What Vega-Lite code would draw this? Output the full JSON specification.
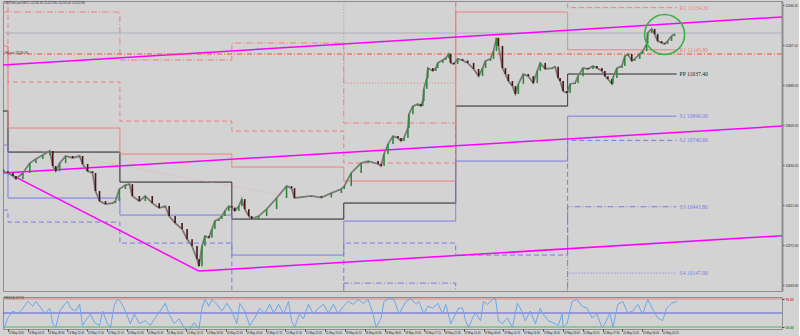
{
"$schema":"https://vega.github.io/schema/vega-lite/v6.json",
"padding":0,
"background":"#d3d3d3",
"spacing":3,
"config":{"view":{"stroke":"#8e8e8e","fill":"#d3d3d3"},"font":"Liberation Sans","axis":{"labelOverlap":false},"axisX":{"labelOverlap":false}},
"datasets":{
"price":[
{"t":-1.07,"o":10610,"c":10603},{"t":0,"o":10603,"c":10595},{"t":1.07,"o":10595,"c":10581},{"t":1.71,"o":10581,"c":10568},{"t":3.2,"o":10568,"c":10595},{"t":4.69,"o":10595,"c":10639},{"t":5.97,"o":10639,"c":10657},{"t":7.47,"o":10657,"c":10675},{"t":8.96,"o":10675,"c":10693},{"t":9.6,"o":10693,"c":10626},{"t":10.24,"o":10626,"c":10603},{"t":11.09,"o":10603,"c":10639},{"t":12.37,"o":10639,"c":10671},{"t":13.87,"o":10671,"c":10662},{"t":15.36,"o":10662,"c":10671},{"t":16.0,"o":10671,"c":10635},{"t":17.07,"o":10635,"c":10603},{"t":18.13,"o":10603,"c":10595},{"t":18.77,"o":10595,"c":10514},{"t":19.63,"o":10514,"c":10469},{"t":20.91,"o":10469,"c":10456},{"t":22.4,"o":10456,"c":10460},{"t":23.04,"o":10460,"c":10469},{"t":23.89,"o":10469,"c":10523},{"t":25.17,"o":10523,"c":10541},{"t":26.03,"o":10541,"c":10545},{"t":26.67,"o":10545,"c":10492},{"t":28.16,"o":10492,"c":10469},{"t":29.44,"o":10469,"c":10492},{"t":30.93,"o":10492,"c":10460},{"t":32.43,"o":10460,"c":10438},{"t":33.71,"o":10438,"c":10447},{"t":34.56,"o":10447,"c":10402},{"t":35.84,"o":10402,"c":10371},{"t":37.33,"o":10371,"c":10344},{"t":38.4,"o":10344,"c":10299},{"t":39.47,"o":10299,"c":10268},{"t":40.53,"o":10268,"c":10210},{"t":40.96,"o":10210,"c":10178},{"t":41.6,"o":10178,"c":10268},{"t":42.24,"o":10268,"c":10313},{"t":43.09,"o":10313,"c":10305},{"t":43.73,"o":10305,"c":10344},{"t":44.37,"o":10344,"c":10380},{"t":45.23,"o":10380,"c":10389},{"t":45.87,"o":10389,"c":10402},{"t":46.51,"o":10402,"c":10425},{"t":47.36,"o":10425,"c":10447},{"t":48.0,"o":10447,"c":10440},{"t":48.64,"o":10440,"c":10425},{"t":49.49,"o":10425,"c":10447},{"t":50.13,"o":10447,"c":10478},{"t":50.77,"o":10478,"c":10433},{"t":51.63,"o":10433,"c":10402},{"t":52.27,"o":10402,"c":10389},{"t":53.76,"o":10389,"c":10402},{"t":55.47,"o":10402,"c":10433},{"t":57.6,"o":10433,"c":10483},{"t":59.73,"o":10483,"c":10536},{"t":60.8,"o":10536,"c":10527},{"t":61.44,"o":10527,"c":10483},{"t":62.93,"o":10483,"c":10487},{"t":65.07,"o":10487,"c":10492},{"t":67.2,"o":10492,"c":10485},{"t":69.33,"o":10485,"c":10505},{"t":71.47,"o":10505,"c":10523},{"t":72.11,"o":10523,"c":10536},{"t":73.6,"o":10536,"c":10595},{"t":75.73,"o":10595,"c":10639},{"t":77.23,"o":10639,"c":10648},{"t":79.36,"o":10648,"c":10635},{"t":80.0,"o":10635,"c":10626},{"t":80.64,"o":10626,"c":10680},{"t":81.49,"o":10680,"c":10724},{"t":82.56,"o":10724,"c":10760},{"t":83.63,"o":10760,"c":10751},{"t":84.27,"o":10751,"c":10738},{"t":84.91,"o":10738,"c":10751},{"t":85.76,"o":10751,"c":10796},{"t":85.97,"o":10796,"c":10858},{"t":86.83,"o":10858,"c":10894},{"t":87.89,"o":10894,"c":10903},{"t":88.53,"o":10903,"c":10894},{"t":88.96,"o":10894,"c":10917},{"t":89.17,"o":10917,"c":10970},{"t":89.81,"o":10970,"c":11020},{"t":90.03,"o":11020,"c":11064},{"t":91.09,"o":11064,"c":11051},{"t":91.73,"o":11051,"c":11064},{"t":92.16,"o":11064,"c":11087},{"t":93.23,"o":11087,"c":11100},{"t":93.87,"o":11100,"c":11109},{"t":94.51,"o":11109,"c":11127},{"t":94.93,"o":11127,"c":11087},{"t":95.57,"o":11087,"c":11082},{"t":96.43,"o":11082,"c":11105},{"t":97.49,"o":11105,"c":11098},{"t":98.56,"o":11098,"c":11087},{"t":99.84,"o":11087,"c":11060},{"t":100.91,"o":11060,"c":11028},{"t":101.76,"o":11028,"c":11064},{"t":102.4,"o":11064,"c":11096},{"t":103.47,"o":11096,"c":11105},{"t":104.11,"o":11105,"c":11140},{"t":104.75,"o":11140,"c":11199},{"t":105.17,"o":11199,"c":11163},{"t":106.03,"o":11163,"c":11064},{"t":106.67,"o":11064,"c":11037},{"t":107.31,"o":11037,"c":11006},{"t":108.16,"o":11006,"c":10984},{"t":108.8,"o":10984,"c":10948},{"t":109.44,"o":10948,"c":10993},{"t":110.51,"o":10993,"c":11037},{"t":111.57,"o":11037,"c":11028},{"t":112.64,"o":11028,"c":10997},{"t":113.49,"o":10997,"c":11051},{"t":114.13,"o":11051,"c":11087},{"t":115.2,"o":11087,"c":11060},{"t":116.69,"o":11060,"c":11064},{"t":117.33,"o":11064,"c":11070},{"t":117.97,"o":11070,"c":11020},{"t":118.4,"o":11020,"c":11006},{"t":119.04,"o":11006,"c":10961},{"t":119.89,"o":10961,"c":10952},{"t":120.53,"o":10952,"c":10993},{"t":121.6,"o":10993,"c":10997},{"t":122.24,"o":10997,"c":11028},{"t":123.31,"o":11028,"c":11064},{"t":124.37,"o":11064,"c":11060},{"t":125.44,"o":11060,"c":11073},{"t":126.29,"o":11073,"c":11064},{"t":127.36,"o":11064,"c":11051},{"t":128.0,"o":11051,"c":11028},{"t":128.64,"o":11028,"c":11015},{"t":129.49,"o":11015,"c":10993},{"t":129.71,"o":10993,"c":11020},{"t":130.56,"o":11020,"c":11064},{"t":131.63,"o":11064,"c":11073},{"t":132.27,"o":11073,"c":11118},{"t":132.91,"o":11118,"c":11127},{"t":133.76,"o":11127,"c":11096},{"t":134.4,"o":11096,"c":11105},{"t":135.47,"o":11105,"c":11127},{"t":136.11,"o":11127,"c":11140},{"t":136.96,"o":11140,"c":11172},{"t":137.17,"o":11172,"c":11221},{"t":138.03,"o":11221,"c":11239},{"t":138.67,"o":11239,"c":11216},{"t":139.31,"o":11216,"c":11185},{"t":140.16,"o":11185,"c":11176},{"t":140.8,"o":11176,"c":11172},{"t":141.44,"o":11172,"c":11185},{"t":142.29,"o":11185,"c":11207},{"t":142.93,"o":11207,"c":11216}
],
"piv":[
{"lvl":"PP","t":-1.07,"v":10871.9},{"lvl":"PP","t":0,"v":10688.4},{"lvl":"PP","t":24,"v":10554.2},{"lvl":"PP","t":48,"v":10388.7},{"lvl":"PP","t":72,"v":10460.3},{"lvl":"PP","t":96,"v":10894.2},{"lvl":"PP","t":120,"v":11037.4},{"lvl":"PP","t":143.36,"v":11037.4},
{"lvl":"R1","t":-1.07,"v":11162.7},{"lvl":"R1","t":0,"v":10795.8},{"lvl":"R1","t":24,"v":10679.5},{"lvl":"R1","t":48,"v":10621.3},{"lvl":"R1","t":72,"v":10558.7},{"lvl":"R1","t":96,"v":11314.8},{"lvl":"R1","t":120,"v":11145.8},{"lvl":"R1","t":143.36,"v":11145.8},
{"lvl":"R2","t":-1.07,"v":11314.8},{"lvl":"R2","t":0,"v":11001.6},{"lvl":"R2","t":24,"v":10827.1},{"lvl":"R2","t":48,"v":10782.4},{"lvl":"R2","t":72,"v":10639.2},{"lvl":"R2","t":96,"v":11560.9},{"lvl":"R2","t":120,"v":11334.2},{"lvl":"R2","t":143.36,"v":11334.2},
{"lvl":"R3","t":-1.07,"v":11757.7},{"lvl":"R3","t":0,"v":11314.8},{"lvl":"R3","t":24,"v":11100.0},{"lvl":"R3","t":48,"v":11176.1},{"lvl":"R3","t":72,"v":10818.2},{"lvl":"R3","t":96,"v":12227},{"lvl":"R3","t":120,"v":11631.0},{"lvl":"R3","t":143.36,"v":11631.0},
{"lvl":"R4","t":-1.07,"v":12200},{"lvl":"R4","t":0,"v":11628.0},{"lvl":"R4","t":24,"v":11372.9},{"lvl":"R4","t":48,"v":11569.8},{"lvl":"R4","t":72,"v":10997.1},{"lvl":"R4","t":96,"v":12890},{"lvl":"R4","t":120,"v":11927.8},{"lvl":"R4","t":143.36,"v":11927.8},
{"lvl":"S1","t":-1.07,"v":10719.7},{"lvl":"S1","t":0,"v":10482.6},{"lvl":"S1","t":24,"v":10406.6},{"lvl":"S1","t":48,"v":10227.6},{"lvl":"S1","t":72,"v":10379.7},{"lvl":"S1","t":96,"v":10648.2},{"lvl":"S1","t":120,"v":10849.0},{"lvl":"S1","t":143.36,"v":10849.0},
{"lvl":"S2","t":-1.07,"v":10428.9},{"lvl":"S2","t":0,"v":10375.2},{"lvl":"S2","t":24,"v":10281.3},{"lvl":"S2","t":48,"v":9995.0},{"lvl":"S2","t":72,"v":10281.3},{"lvl":"S2","t":96,"v":10227.6},{"lvl":"S2","t":120,"v":10740.6},{"lvl":"S2","t":143.36,"v":10740.6},
{"lvl":"S3","t":-1.07,"v":9986.0},{"lvl":"S3","t":0,"v":10062.1},{"lvl":"S3","t":24,"v":10008.4},{"lvl":"S3","t":48,"v":9601.2},{"lvl":"S3","t":72,"v":10102.3},{"lvl":"S3","t":96,"v":9561.0},{"lvl":"S3","t":120,"v":10443.8},{"lvl":"S3","t":143.36,"v":10443.8},
{"lvl":"S4","t":-1.07,"v":9543},{"lvl":"S4","t":0,"v":9748.9},{"lvl":"S4","t":24,"v":9735.5},{"lvl":"S4","t":48,"v":9207.5},{"lvl":"S4","t":72,"v":9923.4},{"lvl":"S4","t":96,"v":8894},{"lvl":"S4","t":120,"v":10147.0},{"lvl":"S4","t":143.36,"v":10147.0}
],
"plabels":[
{"lvl":"R2","t":144,"v":11334.2,"label":"R2 11334.20"},{"lvl":"R1","t":144,"v":11145.8,"label":"R1 11145.80"},{"lvl":"PP","t":144,"v":11037.4,"label":"PP 11037.40"},{"lvl":"S1","t":144,"v":10849.0,"label":"S1 10849.00"},{"lvl":"S2","t":144,"v":10740.6,"label":"S2 10740.60"},{"lvl":"S3","t":144,"v":10443.8,"label":"S3 10443.80"},{"lvl":"S4","t":144,"v":10147.0,"label":"S4 10147.00"}
],
"trend":[
{"id":"a","t":-1.07,"v":11077.7},{"id":"a","t":165.97,"v":11292.4},
{"id":"b","t":-1.07,"v":10594.5},{"id":"b","t":165.97,"v":10804.7},
{"id":"c","t":0,"v":10594.5},{"id":"c","t":40.96,"v":10156.0},
{"id":"d","t":40.96,"v":10156.0},{"id":"d","t":165.97,"v":10314.0}
],
"diag":[{"t":-1.07,"v":10724},{"t":58.67,"v":10496}],
"hred":[{"v":11126.9}],
"hgray":[{"v":11220.8}],
"circle":[{"t":140.8,"v":11214}],
"notes":[{"t":-0.8,"v":11354,"label":"GER30Cash,M15  11218.30 11221.80 11216.40 11220.80"},{"t":-0.8,"v":11133,"label":"#HLine 11126.90"}],
"rsi":[
{"t":-1.07,"r":25.2},{"t":0,"r":43.1},{"t":1.07,"r":52.8},{"t":2.13,"r":48.6},{"t":3.2,"r":56.9},{"t":4.27,"r":66.5},{"t":5.33,"r":59.7},{"t":5.97,"r":66.5},{"t":6.83,"r":59.7},{"t":7.89,"r":48.6},{"t":8.96,"r":56.9},{"t":9.6,"r":34.8},{"t":10.24,"r":29.3},{"t":11.09,"r":52.8},{"t":12.16,"r":62.4},{"t":12.8,"r":66.5},{"t":13.44,"r":56.9},{"t":14.51,"r":52.8},{"t":15.36,"r":62.4},{"t":16,"r":32.1},{"t":16.64,"r":39.0},{"t":17.71,"r":48.6},{"t":18.56,"r":36.2},{"t":19.63,"r":32.1},{"t":20.27,"r":52.8},{"t":21.33,"r":34.8},{"t":21.97,"r":29.3},{"t":22.83,"r":62.4},{"t":23.47,"r":69.3},{"t":24.11,"r":66.5},{"t":25.17,"r":52.8},{"t":26.24,"r":34.8},{"t":27.09,"r":48.6},{"t":28.16,"r":34.8},{"t":29.44,"r":39.0},{"t":30.51,"r":32.1},{"t":31.57,"r":43.1},{"t":32.64,"r":52.8},{"t":33.71,"r":63.8},{"t":34.56,"r":48.6},{"t":35.63,"r":34.8},{"t":36.69,"r":41.7},{"t":37.76,"r":29.3},{"t":38.83,"r":25.2},{"t":39.89,"r":36.2},{"t":40.96,"r":27.9},{"t":41.6,"r":56.9},{"t":42.24,"r":69.3},{"t":43.09,"r":59.7},{"t":43.73,"r":69.3},{"t":44.8,"r":62.4},{"t":45.87,"r":52.8},{"t":46.93,"r":63.8},{"t":48,"r":52.8},{"t":49.07,"r":34.8},{"t":49.71,"r":63.8},{"t":50.77,"r":52.8},{"t":51.84,"r":32.1},{"t":52.91,"r":43.1},{"t":53.97,"r":56.9},{"t":55.04,"r":48.6},{"t":56.11,"r":62.4},{"t":56.96,"r":50},{"t":58.03,"r":62.4},{"t":59.09,"r":48.6},{"t":60.16,"r":66.5},{"t":60.8,"r":39.0},{"t":61.44,"r":29.3},{"t":62.51,"r":48.6},{"t":63.36,"r":41.7},{"t":64.43,"r":62.4},{"t":65.49,"r":48.6},{"t":66.56,"r":56.9},{"t":67.63,"r":62.4},{"t":68.69,"r":50},{"t":69.76,"r":62.4},{"t":70.83,"r":48.6},{"t":71.89,"r":59.7},{"t":72.96,"r":66.5},{"t":74.03,"r":62.4},{"t":75.09,"r":69.3},{"t":76.16,"r":63.8},{"t":77.23,"r":69.3},{"t":78.29,"r":48.6},{"t":78.93,"r":29.3},{"t":80,"r":43.1},{"t":80.64,"r":66.5},{"t":81.71,"r":70.7},{"t":82.77,"r":69.3},{"t":83.84,"r":48.6},{"t":85.33,"r":66.5},{"t":86.4,"r":70.7},{"t":87.47,"r":62.4},{"t":88.11,"r":66.5},{"t":89.17,"r":48.6},{"t":90.03,"r":59.7},{"t":91.09,"r":56.9},{"t":92.16,"r":63.8},{"t":93.23,"r":48.6},{"t":93.87,"r":62.4},{"t":94.93,"r":34.8},{"t":95.57,"r":43.1},{"t":96.64,"r":56.9},{"t":97.49,"r":56.9},{"t":98.13,"r":39.0},{"t":98.77,"r":29.3},{"t":99.63,"r":43.1},{"t":100.27,"r":50},{"t":101.33,"r":39.0},{"t":101.97,"r":66.5},{"t":102.83,"r":62.4},{"t":103.89,"r":69.3},{"t":104.53,"r":70.7},{"t":105.17,"r":39.0},{"t":106.03,"r":34.8},{"t":107.09,"r":43.1},{"t":108.16,"r":29.3},{"t":109.23,"r":63.8},{"t":109.87,"r":56.9},{"t":110.93,"r":39.0},{"t":112,"r":52.8},{"t":113.07,"r":34.8},{"t":114.13,"r":56.9},{"t":114.77,"r":48.6},{"t":115.84,"r":39.0},{"t":117.33,"r":34.8},{"t":117.97,"r":32.1},{"t":118.83,"r":48.6},{"t":119.04,"r":29.3},{"t":119.89,"r":34.8},{"t":120.96,"r":66.5},{"t":122.03,"r":69.3},{"t":123.09,"r":59.7},{"t":124.16,"r":56.9},{"t":125.23,"r":43.1},{"t":126.29,"r":48.6},{"t":127.36,"r":29.3},{"t":128,"r":34.8},{"t":129.07,"r":50},{"t":129.71,"r":29.3},{"t":130.77,"r":62.4},{"t":131.84,"r":66.5},{"t":132.91,"r":50},{"t":133.97,"r":52.8},{"t":135.04,"r":62.4},{"t":136.11,"r":48.6},{"t":137.17,"r":69.3},{"t":138.24,"r":55.5},{"t":139.31,"r":43.1},{"t":140.37,"r":39.0},{"t":141.23,"r":56.9},{"t":142.29,"r":63.8},{"t":143.36,"r":66.5}
],
"rlev":[{"r":70},{"r":50},{"r":30}],
"rnote":[{"t":-0.8,"r":71.2,"label":"RSI(14) 67.51"}]
},
"vconcat":[
{
"width":779,"height":290,
"layer":[
{"data":{"name":"hgray"},"mark":{"type":"rule","color":"#a9b1bd","strokeWidth":1},
 "encoding":{"y":{"field":"v","type":"quantitative","title":null,"scale":{"domain":[10067,11364],"nice":false,"zero":false},
  "axis":{"orient":"right","values":[11346.1,11301.4,11256.6,11211.9,11167.1,11122.4,11077.7,11032.9,10988.2,10943.4,10898.7,10853.9,10809.2,10764.5,10719.7,10675.0,10630.2,10585.5,10540.7,10496.0,10451.3,10406.5,10361.8,10317.0,10272.3,10227.5,10182.8,10138.1,10093.3],"format":".2f","labelFontSize":3,"tickSize":2,"labelPadding":1,"domainColor":"#8e8e8e","domainWidth":2,"tickColor":"#404040","labelColor":"#202020","grid":false,"title":null}}}},
{"data":{"name":"piv"},"mark":{"type":"line","interpolate":"step-after","strokeWidth":1,"clip":true},
 "encoding":{"x":{"field":"t","type":"quantitative","axis":null,"scale":{"domain":[-1.07,165.97],"nice":false,"zero":false}},
  "y":{"field":"v","type":"quantitative","title":null,"scale":{"domain":[10067,11364],"nice":false,"zero":false}},
  "color":{"field":"lvl","type":"nominal","legend":null,"scale":{"domain":["PP","R1","R2","R3","R4","S1","S2","S3","S4"],"range":["#1e1e1e","#ee7f7a","#ee7f7a","#ee7f7a","#ee7f7a","#7a7ae8","#7a7ae8","#7a7ae8","#7a7ae8"]}},
  "strokeDash":{"field":"lvl","type":"nominal","legend":null,"scale":{"domain":["PP","R1","R2","R3","R4","S1","S2","S3","S4"],"range":[[1,0],[1,0],[5,3],[6,2,1,2],[1,2],[1,0],[5,3],[6,2,1,2],[1,2]]}}}},
{"data":{"name":"diag"},"mark":{"type":"line","color":"#e6a28f","strokeWidth":1,"strokeDash":[1,2],"opacity":0.8},
 "encoding":{"x":{"field":"t","type":"quantitative","axis":null,"scale":{"domain":[-1.07,165.97],"nice":false,"zero":false}},
  "y":{"field":"v","type":"quantitative","title":null,"scale":{"domain":[10067,11364],"nice":false,"zero":false}}}},
{"data":{"name":"trend"},"mark":{"type":"line","color":"#ff00ff","strokeWidth":1.5,"clip":true},
 "encoding":{"x":{"field":"t","type":"quantitative","axis":null,"scale":{"domain":[-1.07,165.97],"nice":false,"zero":false}},
  "y":{"field":"v","type":"quantitative","title":null,"scale":{"domain":[10067,11364],"nice":false,"zero":false}},
  "detail":{"field":"id","type":"nominal"}}},
{"data":{"name":"hred"},"mark":{"type":"rule","color":"#ff4a2a","strokeWidth":1,"strokeDash":[5,2,1,2]},
 "encoding":{"y":{"field":"v","type":"quantitative","title":null,"scale":{"domain":[10067,11364],"nice":false,"zero":false}}}},
{"data":{"name":"price"},"mark":{"type":"line","color":"#7a7a7a","strokeWidth":1.8,"clip":true},
 "encoding":{"x":{"field":"t","type":"quantitative","axis":null,"scale":{"domain":[-1.07,165.97],"nice":false,"zero":false}},
  "y":{"field":"c","type":"quantitative","title":null,"scale":{"domain":[10067,11364],"nice":false,"zero":false}}}},
{"data":{"name":"price"},"mark":{"type":"rule","strokeWidth":1.6,"clip":true},
 "encoding":{"x":{"field":"t","type":"quantitative","axis":null,"scale":{"domain":[-1.07,165.97],"nice":false,"zero":false}},
  "y":{"field":"o","type":"quantitative","title":null,"scale":{"domain":[10067,11364],"nice":false,"zero":false}},
  "y2":{"field":"c"},
  "color":{"condition":{"test":"datum.c >= datum.o","value":"#2f8a35"},"value":"#4a1212"}}},
{"data":{"name":"circle"},"mark":{"type":"point","shape":"circle","size":1600,"filled":false,"color":"#3bb24a","strokeWidth":1.6,"opacity":1},
 "encoding":{"x":{"field":"t","type":"quantitative","axis":null,"scale":{"domain":[-1.07,165.97],"nice":false,"zero":false}},
  "y":{"field":"v","type":"quantitative","title":null,"scale":{"domain":[10067,11364],"nice":false,"zero":false}}}},
{"data":{"name":"plabels"},"mark":{"type":"text","align":"left","baseline":"middle","font":"Liberation Serif","fontSize":5.6},
 "encoding":{"x":{"field":"t","type":"quantitative","axis":null,"scale":{"domain":[-1.07,165.97],"nice":false,"zero":false}},
  "y":{"field":"v","type":"quantitative","title":null,"scale":{"domain":[10067,11364],"nice":false,"zero":false}},
  "text":{"field":"label"},
  "color":{"field":"lvl","type":"nominal","legend":null}}},
{"data":{"name":"notes"},"mark":{"type":"text","align":"left","baseline":"middle","fontSize":3.2,"color":"#303030"},
 "encoding":{"x":{"field":"t","type":"quantitative","axis":null,"scale":{"domain":[-1.07,165.97],"nice":false,"zero":false}},
  "y":{"field":"v","type":"quantitative","title":null,"scale":{"domain":[10067,11364],"nice":false,"zero":false}},
  "text":{"field":"label"}}}
]
},
{
"width":779,"height":32,
"encoding":{"x":{"field":"t","type":"quantitative","title":null,"scale":{"domain":[-1.07,165.97],"nice":false,"zero":false},
  "axis":{"values":[0,4.25,8.5,12.75,17,21.25,25.5,29.75,34,38.25,42.5,46.75,51,55.25,59.5,63.75,68,72.25,76.5,80.75,85,89.25,93.5,97.75,102,106.25,110.5,114.75,119,123.25,127.5,131.75,136,140.25],
   "labelExpr":"datum.value == 0 ? '13 May 2020' : utcFormat(1589328000000 + (datum.value < 72 ? datum.value : datum.value + 48) * 3600000, '%-d %b %H:%M')",
   "labelFontSize":2.7,"labelAlign":"left","labelFlush":false,"labelOverlap":false,"labelBound":false,"tickSize":2,"labelPadding":1,"domain":false,"tickColor":"#404040","labelColor":"#202020","grid":false,"title":null}}},
"layer":[
{"data":{"name":"rlev"},"mark":{"type":"rule","strokeWidth":1},
 "encoding":{"x":null,"y":{"field":"r","type":"quantitative","title":null,"scale":{"domain":[27.2,72.8],"nice":false,"zero":false},
  "axis":{"orient":"right","values":[30,50,70],"format":".2f","labelFontSize":3.2,"tickSize":2,"labelPadding":1,"domain":false,"tickColor":"#404040","grid":false,"title":null,"labelFontWeight":"bold",
   "labelColor":{"condition":[{"test":"datum.value == 70","value":"#e02a2a"},{"test":"datum.value == 50","value":"#2a2ac8"}],"value":"#1f8a2f"}}},
  "color":{"condition":[{"test":"datum.r == 70","value":"#f08080"},{"test":"datum.r == 50","value":"#5a5ae0"}],"value":"#4cb860"}}},
{"data":{"name":"rsi"},"mark":{"type":"line","color":"#6aa6ea","strokeWidth":1,"clip":true},
 "encoding":{"y":{"field":"r","type":"quantitative","title":null,"scale":{"domain":[27.2,72.8],"nice":false,"zero":false}}}},
{"data":{"name":"rnote"},"mark":{"type":"text","align":"left","baseline":"middle","fontSize":3.2,"color":"#303030"},
 "encoding":{"y":{"field":"r","type":"quantitative","title":null,"scale":{"domain":[27.2,72.8],"nice":false,"zero":false}},
  "text":{"field":"label"}}}
]
}
]
}
